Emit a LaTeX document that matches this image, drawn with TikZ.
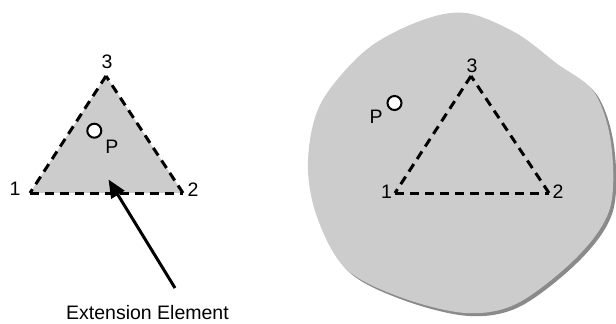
\documentclass[tikz,border=0pt]{standalone}
\usepackage{fontspec}
\setmainfont{Liberation Sans}
\usetikzlibrary{arrows.meta}
\definecolor{fillgray}{HTML}{CCCCCC}
\definecolor{shadowgray}{HTML}{8A8A8A}
\tikzset{
  edgeline/.style={line width=3pt, dash pattern=on 9pt off 6pt, line cap=butt},
  lbl/.style={inner sep=0pt, font=\fontsize{19.5}{22}\selectfont},
  ptcircle/.style={circle, draw=black, fill=white, line width=2pt, minimum size=14pt, inner sep=0pt},
  pointer/.style={line width=3pt, -{Triangle[length=18pt,width=15pt]}}
}
\begin{document}
\begin{tikzpicture}[x=1pt,y=-1pt]
\useasboundingbox (0,0) rectangle (616,324);
% blob with shadow
\def\blobpts{(466,13) (516,33) (556,63) (594,92) (611,143) (610,208) (578,256) (518,303) (466,313) (400,297) (345,268) (316,214) (308,160) (321,103) (366,50) (420,21)}
\fill[shadowgray, shift={(3,3)}] plot[smooth cycle, tension=0.55] coordinates {\blobpts};
\fill[fillgray] plot[smooth cycle, tension=0.55] coordinates {\blobpts};
% left triangle
\coordinate (a1) at (30,193);
\coordinate (a2) at (183,193);
\coordinate (a3) at (106,76);
\fill[fillgray] (a1) -- (a2) -- (a3) -- cycle;
\draw[edgeline] (a1) -- (a2);
\draw[edgeline] (a2) -- (a3);
\draw[edgeline] (a3) -- (a1);
\node[lbl] (l1) at (15,189) {1};
\node[lbl] (l2) at (193,190) {2};
\node[lbl] (l3) at (107,62) {3};
\node[ptcircle] (pa) at (94.3,130.7) {};
\node[lbl] (lpa) at (112,146.5) {P};
% right triangle
\coordinate (b1) at (395,193);
\coordinate (b2) at (549,193);
\coordinate (b3) at (471,76);
\draw[edgeline] (b1) -- (b2);
\draw[edgeline] (b2) -- (b3);
\draw[edgeline] (b3) -- (b1);
\node[lbl] (m1) at (386.5,191.5) {1};
\node[lbl] (m2) at (558,191.5) {2};
\node[lbl] (m3) at (472,66) {3};
\node[ptcircle] (pb) at (394.5,103) {};
\node[lbl] (lpb) at (376,116.5) {P};
% arrow and caption
\coordinate (tail) at (175,288);
\coordinate (tip) at (108.5,179.5);
\draw[pointer] (tail) -- (tip);
\node[lbl, anchor=base] (ext) at (147.5,319.3) {Extension Element};
\end{tikzpicture}
\end{document}
